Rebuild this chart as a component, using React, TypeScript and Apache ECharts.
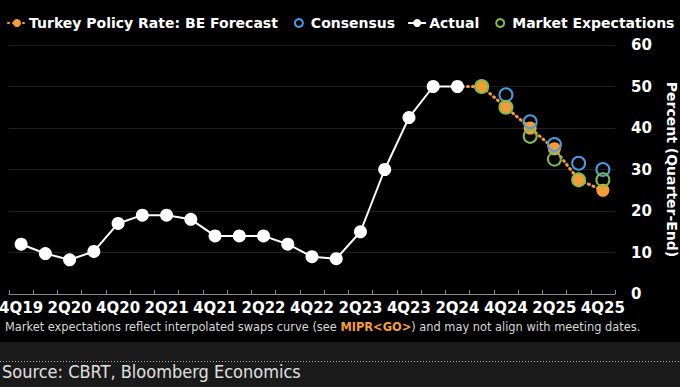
import React, { useEffect, useRef } from "react";
import * as echarts from "echarts";

const categories = [
  "4Q19", "1Q20", "2Q20", "3Q20", "4Q20", "1Q21", "2Q21", "3Q21", "4Q21",
  "1Q22", "2Q22", "3Q22", "4Q22", "1Q23", "2Q23", "3Q23", "4Q23",
  "1Q24", "2Q24", "3Q24", "4Q24", "1Q25", "2Q25", "3Q25", "4Q25",
];

const actualValues: (number | null)[] = [
  12, 9.75, 8.25, 10.25, 17, 19, 19, 18, 14,
  14, 14, 12, 9, 8.5, 15, 30, 42.5,
  50, 50, null, null, null, null, null, null,
];

const forecastValues: (number | null)[] = [
  null, null, null, null, null, null, null, null, null,
  null, null, null, null, null, null, null, null,
  null, 50, 50, 45, 40, 35, 27.5, 25,
];

const consensusValues: (number | null)[] = [
  null, null, null, null, null, null, null, null, null,
  null, null, null, null, null, null, null, null,
  null, null, null, 48, 41.5, 36, 31.5, 30,
];

const marketValues: (number | null)[] = [
  null, null, null, null, null, null, null, null, null,
  null, null, null, null, null, null, null, null,
  null, null, 50, 45, 38, 32.5, 27.5, 27.5,
];

const yTicks = { min: 0, max: 60, interval: 10 };

const ORANGE = "#f49d37";
const BLUE = "#4a9be0";
const GREEN = "#82bb4f";
const BOLD_FONT = "DejaVu Sans";

export default function App() {
  const ref = useRef<HTMLDivElement>(null);

  useEffect(() => {
    if (!ref.current) return;
    const chart = echarts.init(ref.current, undefined, { renderer: "svg" });

    const forecastData = forecastValues.map((v, i) =>
      i === 18 && v !== null ? { value: v, symbol: "none" } : v
    );

    chart.setOption({
      animation: false,
      backgroundColor: "#000000",
      grid: {
        left: 9,
        top: 45,
        width: 606,
        height: 249,
        containLabel: false,
        outerBoundsMode: "none",
      },
      legend: {
        left: 2,
        top: 11,
        itemWidth: 18,
        itemHeight: 10,
        itemGap: 12,
        data: [
          "Turkey Policy Rate: BE Forecast",
          "Consensus",
          "Actual",
          "Market Expectations",
        ],
        textStyle: {
          color: "#ffffff",
          fontFamily: BOLD_FONT,
          fontWeight: "bold",
          fontSize: 14,
          padding: [0, 0, 0, -2],
        },
      },
      xAxis: {
        type: "category",
        data: categories,
        boundaryGap: true,
        axisLine: { show: true, lineStyle: { color: "#8a8a8a", width: 1 } },
        axisTick: {
          show: true,
          inside: true,
          length: 4,
          interval: 0,
          lineStyle: { color: "#8a8a8a" },
        },
        axisLabel: {
          interval: 1,
          color: "#ffffff",
          fontFamily: BOLD_FONT,
          fontWeight: "bold",
          fontSize: 15,
          margin: 6,
        },
        splitLine: { show: false },
      },
      yAxis: {
        type: "value",
        position: "right",
        min: yTicks.min,
        max: yTicks.max,
        interval: yTicks.interval,
        name: "Percent (Quarter-End)",
        nameLocation: "middle",
        nameRotate: -90,
        nameGap: 49,
        nameTextStyle: {
          color: "#ffffff",
          fontFamily: BOLD_FONT,
          fontWeight: "bold",
          fontSize: 14,
          lineHeight: 16,
        },
        axisLine: { show: false },
        axisTick: { show: false },
        axisLabel: {
          color: "#ffffff",
          fontFamily: BOLD_FONT,
          fontWeight: "bold",
          fontSize: 15,
          margin: 16,
          align: "left",
        },
        splitLine: {
          show: true,
          lineStyle: { color: "#1f1f1f", width: 1 },
        },
      },
      series: [
        {
          name: "Turkey Policy Rate: BE Forecast",
          type: "line",
          data: forecastData,
          z: 2,
          symbol: "circle",
          symbolSize: 13,
          itemStyle: { color: ORANGE },
          lineStyle: { color: ORANGE, width: 3, type: [1, 4], cap: "round" },
          connectNulls: false,
        },
        {
          name: "Consensus",
          type: "line",
          data: consensusValues,
          z: 3,
          symbol: "circle",
          symbolSize: 13,
          lineStyle: { width: 0, opacity: 0 },
          itemStyle: { color: "transparent", borderColor: BLUE, borderWidth: 2 },
        },
        {
          name: "Actual",
          type: "line",
          data: actualValues,
          z: 5,
          symbol: "circle",
          symbolSize: 13,
          itemStyle: { color: "#ffffff" },
          lineStyle: { color: "#ffffff", width: 2 },
        },
        {
          name: "Market Expectations",
          type: "line",
          data: marketValues,
          z: 4,
          symbol: "circle",
          symbolSize: 13,
          lineStyle: { width: 0, opacity: 0 },
          itemStyle: { color: "transparent", borderColor: GREEN, borderWidth: 2 },
        },
      ],
      graphic: [
        {
          type: "rect",
          shape: { x: 0, y: 342, width: 680, height: 45 },
          style: { fill: "#1a1a1a" },
          z: -1,
        },
        {
          type: "line",
          shape: { x1: 0, y1: 361.5, x2: 680, y2: 361.5 },
          style: { stroke: "#b5b5b5", lineWidth: 1, lineDash: [1, 2] },
        },
        {
          type: "text",
          left: 5,
          top: 321,
          style: {
            text:
              "Market expectations reflect interpolated swaps curve (see {o|MIPR<GO>}) and may not align with meeting dates.",
            fill: "#d8d8d8",
            font: "11.4px 'DejaVu Sans'",
            rich: {
              o: {
                fill: ORANGE,
                fontFamily: BOLD_FONT,
                fontWeight: "bold",
                fontSize: 11.4,
              },
            },
          },
        },
        {
          type: "text",
          left: 2,
          top: 362,
          style: {
            text: "Source: CBRT, Bloomberg Economics",
            fill: "#e0e0e0",
            font: "18px 'DejaVu Sans Condensed', 'Liberation Sans Narrow', sans-serif",
          },
        },
      ],
    });

    return () => chart.dispose();
  }, []);

  return (
    <div
      ref={ref}
      style={{
        position: "fixed",
        left: 0,
        top: 0,
        width: 680,
        height: 387,
        background: "#000",
      }}
    />
  );
}
